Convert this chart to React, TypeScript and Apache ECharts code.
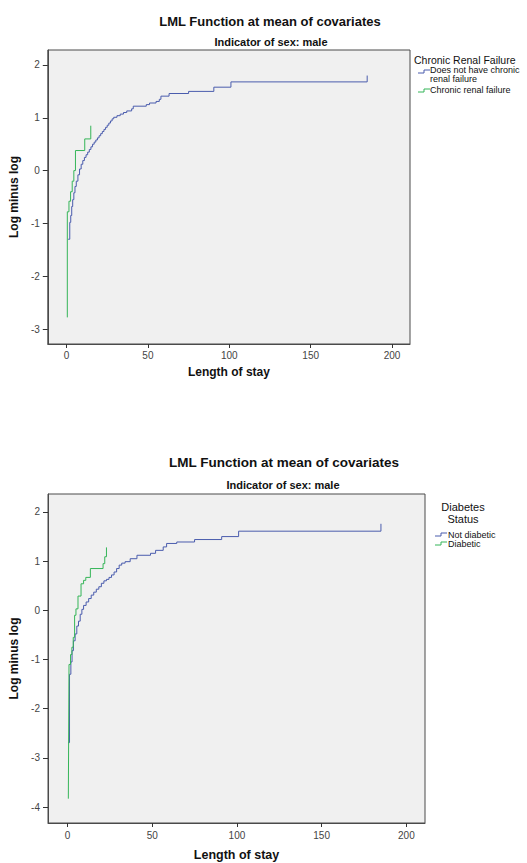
import React, { useEffect, useRef } from "react";
import * as echarts from "echarts";

const mainTitle = "LML Function at mean of covariates";
const subTitle = "Indicator of sex: male";
const xName = "Length of stay";
const yName = "Log minus log";

const xTicks = [0, 50, 100, 150, 200];
const yTicksTop = [-3, -2, -1, 0, 1, 2];
const yTicksBottom = [-4, -3, -2, -1, 0, 1, 2];

const legendTopTitle = "Chronic Renal Failure";
const legendTopItems = ["Does not have chronic\nrenal failure", "Chronic renal failure"];
const legendBottomTitle = "Diabetes\nStatus";
const legendBottomItems = ["Not diabetic", "Diabetic"];

// Top chart: Chronic Renal Failure
const crfNo: number[][] = [
  [1, -1.3], [2, -0.98], [2.6, -0.85], [3.2, -0.68], [3.8, -0.55], [4.5, -0.42], [5.2, -0.3],
  [6, -0.2], [7, -0.08], [8, 0.03], [9, 0.12], [10, 0.19], [11, 0.25], [12, 0.3], [13, 0.35],
  [14, 0.4], [15, 0.45], [16, 0.5], [17, 0.54], [18, 0.58], [19, 0.62], [20, 0.66], [21, 0.7],
  [22, 0.74], [23, 0.78], [24, 0.82], [25, 0.86], [26, 0.9], [27, 0.94], [28, 0.98], [29, 1.01],
  [31, 1.04], [33, 1.07], [35, 1.1], [37, 1.13], [40, 1.17], [41, 1.22], [49, 1.25], [51, 1.28],
  [55, 1.31], [57, 1.35], [58, 1.41], [63, 1.46], [75, 1.5], [90.5, 1.58], [101, 1.68], [184.7, 1.8],
];
const crfYes: number[][] = [
  [0.5, -2.78], [0.5, -0.78], [1.5, -0.58], [2.5, -0.4], [3.5, -0.2], [4.5, 0.0], [5.5, 0.38],
  [11.2, 0.6], [14.9, 0.85],
];

// Bottom chart: Diabetes Status
const notDiabetic: number[][] = [
  [0.5, -2.69], [1.2, -1.3], [2, -1.05], [2.7, -0.82], [3.5, -0.62], [4.5, -0.48], [5.5, -0.32],
  [6.5, -0.22], [7.5, -0.08], [8.5, 0.02], [9.5, 0.1], [11, 0.17], [12.5, 0.24], [14, 0.31],
  [15.5, 0.37], [17, 0.43], [18.5, 0.48], [20, 0.55], [21.5, 0.6], [23, 0.63], [24.5, 0.67],
  [26, 0.72], [27.5, 0.78], [29, 0.85], [30.5, 0.92], [32, 0.96], [34, 0.99], [37, 1.05],
  [41, 1.12], [49, 1.16], [52, 1.22], [56.5, 1.29], [58.5, 1.36], [64.5, 1.39], [75, 1.44],
  [91, 1.5], [101, 1.61], [185, 1.76],
];
const diabetic: number[][] = [
  [0.5, -3.83], [0.9, -1.1], [1.8, -0.9], [2.6, -0.75], [3.4, -0.55], [4.2, -0.1], [5.0, 0.03],
  [6.2, 0.29], [8, 0.54], [9.5, 0.61], [10.8, 0.67], [13.5, 0.85], [21, 0.95], [22, 1.09], [23, 1.28],
];

const BLUE = "#4a5cad";
const GREEN = "#35b558";
const FONT = "Liberation Sans, Arial, sans-serif";

function xAxisCfg(gridIndex: number, margin: number, nameGap: number, nameSize: number) {
  return {
    gridIndex,
    type: "value",
    min: -11.5,
    max: 211,
    splitLine: { show: false },
    axisLine: { show: true, onZero: false, lineStyle: { color: "#4a4a4a", width: 1 } },
    axisTick: { show: true, length: 4, customValues: xTicks, lineStyle: { color: "#333" } },
    axisLabel: { customValues: xTicks, fontSize: 10, color: "#444", fontFamily: FONT, margin },
    name: xName,
    nameLocation: "middle",
    nameGap,
    nameTextStyle: { fontWeight: "bold", fontSize: nameSize, color: "#111", fontFamily: FONT },
  };
}

function yAxisCfg(gridIndex: number, min: number, max: number, ticks: number[], nameGap: number) {
  return {
    gridIndex,
    type: "value",
    min,
    max,
    splitLine: { show: false },
    axisLine: { show: true, onZero: false, lineStyle: { color: "#4a4a4a", width: 1 } },
    axisTick: { show: true, length: 5, customValues: ticks, lineStyle: { color: "#333" } },
    axisLabel: { customValues: ticks, fontSize: 10, color: "#444", fontFamily: FONT, margin: 8 },
    name: yName,
    nameLocation: "middle",
    nameRotate: 90,
    nameGap,
    nameTextStyle: { fontWeight: "bold", fontSize: 12, color: "#111", fontFamily: FONT },
  };
}

function stepSeries(name: string, data: number[][], color: string, idx: number) {
  return {
    name,
    type: "line",
    step: "end",
    xAxisIndex: idx,
    yAxisIndex: idx,
    data,
    showSymbol: false,
    symbol: "none",
    lineStyle: { color, width: 1 },
    itemStyle: { color },
  };
}

function icon(x: number, yLow: number, yHigh: number, color: string) {
  return {
    type: "polyline",
    shape: { points: [[x, yLow], [x + 6, yLow], [x + 6, yHigh], [x + 12, yHigh]] },
    style: { stroke: color, lineWidth: 1, fill: null },
  };
}

function txt(text: string, x: number, y: number, size: number, bold: boolean, align = "left", lineHeight?: number) {
  return {
    type: "text",
    x,
    y,
    style: {
      text,
      fontSize: size,
      fontWeight: bold ? "bold" : "normal",
      fontFamily: FONT,
      fill: "#111",
      textAlign: align,
      textVerticalAlign: "middle",
      lineHeight: lineHeight ?? size + 1,
    },
  };
}

export default function App() {
  const ref = useRef<HTMLDivElement>(null);
  useEffect(() => {
    if (!ref.current) return;
    const chart = echarts.init(ref.current, undefined, { renderer: "svg" });
    chart.setOption({
      animation: false,
      backgroundColor: "#ffffff",
      grid: [
        { left: 46, top: 50, width: 364, height: 294, show: true, backgroundColor: "#f0f0f0", borderColor: "#4a4a4a", borderWidth: 1 },
        { left: 48, top: 494, width: 377, height: 329, show: true, backgroundColor: "#f0f0f0", borderColor: "#4a4a4a", borderWidth: 1 },
      ],
      xAxis: [xAxisCfg(0, 6, 22, 12), xAxisCfg(1, 7, 25, 12.5)],
      yAxis: [
        yAxisCfg(0, -3.284, 2.284, yTicksTop, 23),
        yAxisCfg(1, -4.325, 2.366, yTicksBottom, 25),
      ],
      series: [
        stepSeries(legendTopItems[0], crfNo, BLUE, 0),
        stepSeries(legendTopItems[1], crfYes, GREEN, 0),
        stepSeries(legendBottomItems[0], notDiabetic, BLUE, 1),
        stepSeries(legendBottomItems[1], diabetic, GREEN, 1),
      ],
      graphic: [
        txt(mainTitle, 270, 21, 13, true, "center"),
        txt(subTitle, 271, 42, 11, true, "center"),
        txt(mainTitle, 284, 462, 13.5, true, "center"),
        txt(subTitle, 283, 485, 11, true, "center"),
        // top legend
        txt(legendTopTitle, 414, 60, 10.5, false, "left"),
        icon(418, 73, 70, BLUE),
        txt(legendTopItems[0], 430, 74.5, 9, false, "left", 8.5),
        icon(418, 92, 89, GREEN),
        txt(legendTopItems[1], 430, 89.5, 9, false, "left"),
        // bottom legend
        txt(legendBottomTitle, 463, 513, 11, false, "center", 12),
        icon(435, 536, 533, BLUE),
        txt(legendBottomItems[0], 448, 534.5, 9, false, "left"),
        icon(435, 545, 542, GREEN),
        txt(legendBottomItems[1], 448, 543.5, 9, false, "left"),
      ],
    });
    return () => chart.dispose();
  }, []);
  return <div ref={ref} style={{ position: "absolute", left: 0, top: 0, width: 527, height: 863 }} />;
}
